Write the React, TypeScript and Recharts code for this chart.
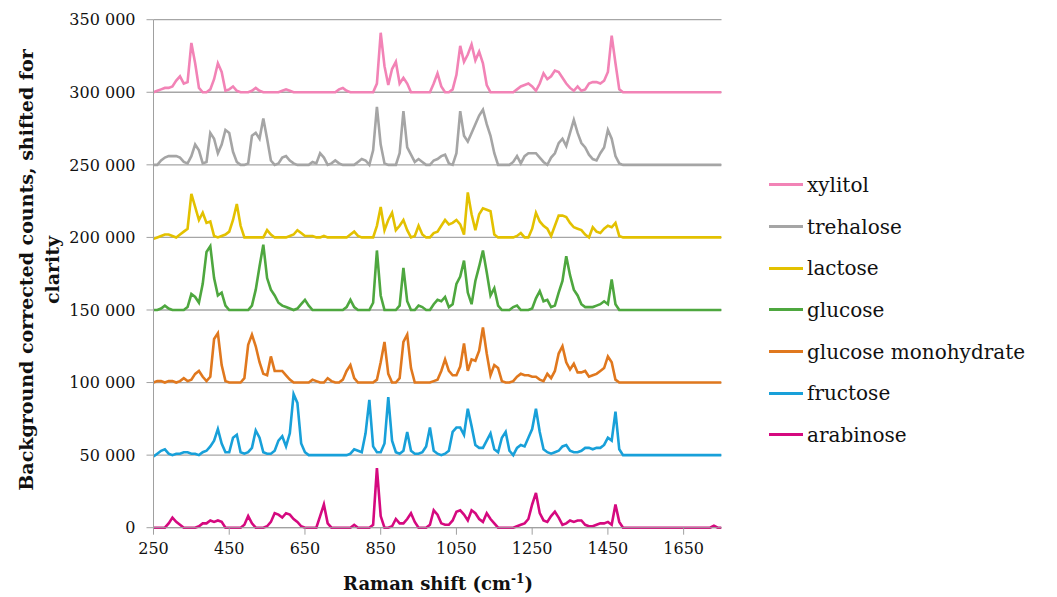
import React from 'react';
import { LineChart, Line, XAxis, YAxis, CartesianGrid, Label } from 'recharts';

// Raman shift grid (cm-1)
const SHIFT = [
  250, 260, 270, 280, 290, 300, 310, 320, 330, 340,
  350, 360, 370, 380, 390, 400, 410, 420, 430, 440,
  450, 460, 470, 480, 490, 500, 510, 520, 530, 540,
  550, 560, 570, 580, 590, 600, 610, 620, 630, 640,
  650, 660, 670, 680, 690, 700, 710, 720, 730, 740,
  750, 760, 770, 780, 790, 800, 810, 820, 830, 840,
  850, 860, 870, 880, 890, 900, 910, 920, 930, 940,
  950, 960, 970, 980, 990, 1000, 1010, 1020, 1030, 1040,
  1050, 1060, 1070, 1080, 1090, 1100, 1110, 1120, 1130, 1140,
  1150, 1160, 1170, 1180, 1190, 1200, 1210, 1220, 1230, 1240,
  1250, 1260, 1270, 1280, 1290, 1300, 1310, 1320, 1330, 1340,
  1350, 1360, 1370, 1380, 1390, 1400, 1410, 1420, 1430, 1440,
  1450, 1460, 1470, 1480, 1490, 1500,
  1600, 1720, 1730, 1740, 1750,
];

// background corrected counts, thousands (before shifting)
const xylitol = [
  0, 1, 2, 3, 3, 4, 8, 11, 6, 7,
  34, 20, 3, 0, 0, 2, 9, 20, 14, 1,
  2, 4, 1, 0, 0, 0, 1, 3, 1, 0,
  0, 0, 0, 0, 1, 2, 1, 0, 0, 0,
  0, 0, 0, 0, 0, 0, 0, 0, 0, 2,
  3, 1, 0, 0, 0, 0, 0, 0, 0, 6,
  41, 18, 5, 16, 21, 6, 10, 6, 0, 0,
  0, 0, 0, 0, 6, 13, 4, 0, 0, 2,
  12, 32, 21, 26, 33, 22, 28, 20, 5, 0,
  0, 0, 0, 0, 0, 0, 2, 4, 5, 6,
  4, 1, 6, 13, 9, 11, 15, 14, 10, 6,
  3, 1, 4, 1, 2, 6, 7, 7, 6, 8,
  14, 39, 20, 2, 0, 0,
  0, 0, 0, 0, 0,
];
const trehalose = [
  0, 0, 3, 5, 6, 6, 6, 5, 2, 1,
  6, 14, 10, 1, 2, 22, 18, 8, 14, 24,
  22, 9, 2, 0, 0, 1, 20, 22, 18, 32,
  18, 3, 0, 1, 5, 6, 3, 1, 0, 0,
  0, 0, 2, 1, 8, 5, 0, 1, 3, 1,
  0, 0, 0, 0, 2, 4, 3, 0, 10, 40,
  14, 1, 0, 0, 0, 8, 37, 12, 7, 2,
  4, 2, 0, 0, 3, 4, 6, 7, 1, 0,
  8, 37, 20, 16, 22, 28, 34, 38, 28, 20,
  8, 0, 0, 0, 0, 2, 6, 1, 6, 8,
  8, 8, 5, 2, 0, 5, 8, 15, 18, 13,
  22, 31, 22, 15, 12, 7, 4, 3, 8, 12,
  24, 18, 6, 1, 0, 0,
  0, 0, 0, 0, 0,
];
const lactose = [
  -1, 0, 1, 2, 2, 1, 0, 2, 4, 6,
  30, 21, 12, 17, 10, 11, 1, 0, 1, 2,
  4, 12, 23, 8, 0, 0, 0, 0, 0, 0,
  5, 2, 0, 0, 0, 0, 1, 2, 5, 3,
  1, 1, 1, 0, 0, 1, 0, 0, 0, 0,
  0, 0, 2, 4, 1, 0, 0, 0, 0, 8,
  21, 5, 12, 17, 5, 8, 12, 5, 0, 1,
  8, 2, 0, 0, 3, 4, 8, 12, 9, 10,
  12, 9, 2, 31, 16, 5, 16, 20, 19, 18,
  2, 0, 0, 0, 0, 0, 1, 3, 0, 0,
  6, 17, 11, 8, 6, 1, 8, 15, 15, 14,
  10, 7, 6, 5, 2, 0, 7, 4, 3, 6,
  8, 7, 10, 1, 0, 0,
  0, 0, 0, 0, 0,
];
const glucose = [
  0, 0, 1, 3, 1, 0, 0, 0, 0, 2,
  11, 9, 5, 18, 40, 44, 22, 10, 12, 3,
  0, 0, 0, 0, 0, 0, 3, 14, 30, 45,
  22, 14, 10, 5, 3, 2, 1, 0, 1, 4,
  7, 3, 0, 0, 0, 0, 0, 0, 0, 0,
  0, 2, 7, 2, 0, 0, 0, 0, 5, 41,
  10, 0, 0, 0, 0, 3, 29, 6, 0, 0,
  3, 2, 0, 0, 4, 7, 6, 9, 2, 4,
  18, 23, 34, 12, 4, 20, 30, 41, 26, 10,
  15, 3, 0, 0, 0, 2, 3, 0, 0, 0,
  1, 8, 13, 6, 7, 2, 3, 12, 20, 37,
  24, 14, 10, 4, 2, 2, 2, 3, 4, 6,
  4, 21, 4, 0, 0, 0,
  0, 0, 0, 0, 0,
];
const glucoseMonohydrate = [
  0, 1, 1, 0, 1, 1, 0, 1, 3, 1,
  2, 6, 8, 4, 1, 4, 30, 34, 12, 1,
  0, 0, 0, 0, 3, 26, 33, 25, 14, 6,
  5, 18, 8, 8, 8, 5, 2, 0, 0, 0,
  0, 0, 2, 1, 0, 0, 3, 1, 0, 0,
  2, 8, 12, 3, 0, 0, 0, 0, 0, 2,
  14, 28, 6, 0, 0, 3, 28, 33, 10, 0,
  0, 0, 0, 0, 1, 2, 8, 16, 8, 5,
  5, 11, 27, 8, 16, 15, 22, 38, 20, 5,
  12, 10, 1, 0, 0, 1, 4, 6, 5, 5,
  4, 4, 2, 1, 6, 3, 8, 20, 25, 14,
  9, 13, 7, 7, 8, 4, 5, 6, 8, 10,
  18, 14, 2, 0, 0, 0,
  0, 0, 0, 0, 0,
];
const fructose = [
  -1, 1, 3, 4, 1, 0, 1, 1, 2, 2,
  1, 1, 0, 2, 3, 6, 10, 18, 8, 2,
  2, 12, 14, 2, 1, 2, 5, 17, 12, 2,
  1, 1, 3, 10, 13, 6, 15, 42, 36, 8,
  2, 0, 0, 0, 0, 0, 0, 0, 0, 0,
  0, 0, 1, 4, 3, 2, 15, 38, 6, 2,
  2, 8, 40, 10, 2, 1, 3, 16, 3, 1,
  1, 2, 6, 19, 3, 1, 0, 1, 3, 16,
  19, 19, 14, 32, 20, 7, 5, 5, 10, 15,
  4, 2, 12, 16, 3, 0, 5, 7, 6, 12,
  18, 32, 16, 4, 2, 1, 2, 3, 6, 7,
  3, 2, 2, 3, 5, 5, 4, 5, 5, 7,
  12, 10, 30, 4, 0, 0,
  0, 0, 0, 0, 0,
];
const arabinose = [
  0, 0, 0, 0, 3, 7, 4, 2, 0, 0,
  0, 0, 1, 3, 3, 5, 4, 5, 4, 0,
  0, 0, 0, 0, 2, 8, 3, 0, 0, 0,
  1, 4, 10, 9, 7, 10, 9, 6, 4, 1,
  0, 0, 0, 0, 8, 16, 3, 0, 0, 0,
  0, 0, 0, 2, 0, 0, 0, 0, 2, 41,
  8, 0, 0, 1, 6, 3, 3, 6, 10, 4,
  0, 0, 0, 2, 12, 9, 3, 2, 2, 5,
  11, 12, 9, 5, 12, 10, 6, 4, 10, 6,
  3, 0, 0, 0, 0, 0, 1, 2, 3, 6,
  16, 24, 10, 5, 4, 8, 11, 7, 2, 3,
  5, 4, 5, 5, 2, 1, 1, 2, 3, 3,
  4, 2, 16, 4, 0, 0,
  0, 0, 1.4, 0, 0,
];

const SERIES = [
  { key: 'xylitol', name: 'xylitol', values: xylitol, offset: 300000, color: '#F283B6' },
  { key: 'trehalose', name: 'trehalose', values: trehalose, offset: 250000, color: '#A5A5A5' },
  { key: 'lactose', name: 'lactose', values: lactose, offset: 200000, color: '#E3C100' },
  { key: 'glucose', name: 'glucose', values: glucose, offset: 150000, color: '#4EA73F' },
  { key: 'glucoseMono', name: 'glucose monohydrate', values: glucoseMonohydrate, offset: 100000, color: '#E0781E' },
  { key: 'fructose', name: 'fructose', values: fructose, offset: 50000, color: '#18A0D9' },
  { key: 'arabinose', name: 'arabinose', values: arabinose, offset: 0, color: '#D5097F' },
];

const X_TICKS = [250, 450, 650, 850, 1050, 1250, 1450, 1650];
const Y_TICKS = [0, 50000, 100000, 150000, 200000, 250000, 300000, 350000];

const data = SHIFT.map((x, i) => {
  const row: Record<string, number> = { x };
  SERIES.forEach(s => { row[s.key] = s.values[i] * 1000 + s.offset; });
  return row;
});

const FONT = '"DejaVu Serif", serif';
const fmtY = (v: number) => (v === 0 ? '0' : `${v / 1000} 000`);

const YTitle = () => (
  <text transform="rotate(-90 25 262)" x={25} y={262} textAnchor="middle"
    style={{ fontFamily: FONT, fontWeight: 700, fontSize: 19, fill: '#111' }}>
    <tspan x={25} dy={0}>Background corrected counts, shifted for</tspan>
    <tspan x={25} dy={26}>clarity</tspan>
  </text>
);

const XTitle = () => (
  <text x={430} y={582} textAnchor="middle"
    style={{ fontFamily: FONT, fontWeight: 700, fontSize: 18, fill: '#111' }}>
    Raman shift (cm<tspan dy={-7} fontSize={12}>-1</tspan><tspan dy={7}>)</tspan>
  </text>
);

export default function App() {
  return (
    <div style={{ position: 'relative', width: 1041, height: 589, background: '#fff' }}>
      <LineChart width={1041} height={589} data={data}
        margin={{ top: 11.7, right: 327.5, left: 0, bottom: 39.3 }}>
        <CartesianGrid vertical={false} stroke="#A6A6A6" strokeWidth={1.3} />
        <XAxis dataKey="x" type="number" domain={[250, 1750]} ticks={X_TICKS}
          allowDataOverflow height={30} stroke="#A0A0A0" tickSize={7} tickMargin={8}
          tick={{ fontFamily: FONT, fontSize: 16, fill: '#111' }}>
          <Label content={XTitle} />
        </XAxis>
        <YAxis type="number" domain={[0, 350000]} ticks={Y_TICKS} width={145.5}
          stroke="#A0A0A0" tickSize={7} tickMargin={11} tickFormatter={fmtY}
          tick={{ fontFamily: FONT, fontSize: 16, fill: '#111' }}>
          <Label content={YTitle} />
        </YAxis>
        {SERIES.slice().reverse().map(s => (
          <Line key={s.key} dataKey={s.key} name={s.name} type="linear" stroke={s.color}
            strokeWidth={2.6} dot={false} isAnimationActive={false} />
        ))}
      </LineChart>
      <div style={{ position: 'absolute', left: 761, top: 156, fontFamily: FONT, fontSize: 20, color: '#111' }}>
        {SERIES.map(s => (
          <div key={s.key} style={{ display: 'flex', alignItems: 'center', height: 41.7 }}>
            <span style={{ display: 'inline-block', width: 34, height: 3, background: s.color, marginRight: 4 }} />
            <span>{s.name}</span>
          </div>
        ))}
      </div>
    </div>
  );
}
